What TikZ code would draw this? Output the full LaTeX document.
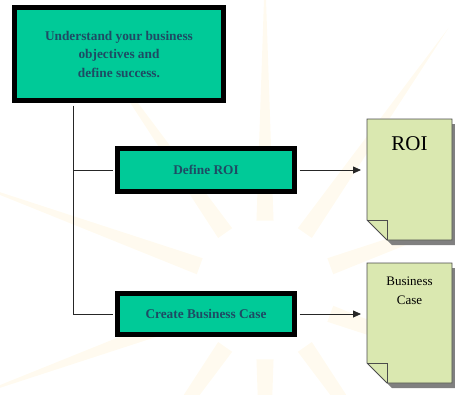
\documentclass[tikz,border=0pt]{standalone}
\usepackage{fontspec}
\setmainfont{Liberation Serif}
\usetikzlibrary{arrows.meta,calc}
\definecolor{boxgreen}{RGB}{0,202,152}
\definecolor{boxtext}{RGB}{30,75,100}
\definecolor{docfill}{RGB}{218,232,176}
\definecolor{docshadow}{RGB}{128,128,128}
\definecolor{sunray}{RGB}{255,236,190}
\tikzset{
  stepbox/.style={draw=black, line width=5pt, fill=boxgreen, text=boxtext,
    font=\fontsize{13.3}{18.5}\selectfont\bfseries, align=center, inner sep=0pt},
  conn/.style={draw=black!85, line width=0.8pt},
  arr/.style={conn, -{Triangle[length=8pt,width=7pt]}},
  docline/.style={draw=black!70, line width=0.8pt, fill=docfill},
}
\begin{document}
\begin{tikzpicture}[x=1pt,y=-1pt]
\useasboundingbox (0,0) rectangle (455,394);
% faint watermark rays
\begin{scope}
\foreach \a in {90,125,160,200,235,270,305,340,20,55}{
  \fill[sunray, opacity=0.25] ($(265,290)+(\a-7:70)$) -- ($(265,290)+(\a:320)$) -- ($(265,290)+(\a+7:70)$) -- cycle;
}
\end{scope}
% boxes
\node[stepbox, minimum width=209pt, minimum height=93pt] (obj) at (119,54)
  {Understand your business\\ objectives and\\ define success.};
\node[stepbox, minimum width=177pt, minimum height=43pt] (roi) at (206,170) {Define ROI};
\node[stepbox, minimum width=177pt, minimum height=41pt] (bc) at (206,314) {Create Business Case};
% documents
\fill[docshadow] (372,124) -- (457,124) -- (457,245) -- (392,245) -- (372,225) -- cycle;
\path[docline] (367,119) -- (452,119) -- (452,240) -- (387,240) -- (367,220) -- cycle;
\draw[draw=black!70, line width=0.8pt] (367,220) -- (387,220) -- (387,240);
\node[font=\fontsize{21}{24}\selectfont, inner sep=0pt] (doc1) at (409.5,143.5) {ROI};
\coordinate (d1in) at (361,170);

\fill[docshadow] (372,268) -- (457,268) -- (457,388) -- (392,388) -- (372,368) -- cycle;
\path[docline] (367,263) -- (452,263) -- (452,383) -- (387,383) -- (367,363) -- cycle;
\draw[draw=black!70, line width=0.8pt] (367,363) -- (387,363) -- (387,383);
\node[font=\fontsize{13}{19.5}\selectfont, align=center, inner sep=0pt] (doc2) at (409.5,291) {Business\\Case};
\coordinate (d2in) at (361,314);
% connectors
\coordinate (trunk) at (73,314);
\draw[conn] ($(obj.south -| trunk)+(0,2.5)$) -- (trunk);
\draw[conn] (roi.west -| trunk) -- ($(roi.west)+(-2.5,0)$);
\draw[conn] (trunk) -- ($(bc.west)+(-2.5,0)$);
\draw[arr] ($(roi.east)+(2.5,0)$) -- (d1in);
\draw[arr] ($(bc.east)+(2.5,0)$) -- (d2in);
\end{tikzpicture}
\end{document}
